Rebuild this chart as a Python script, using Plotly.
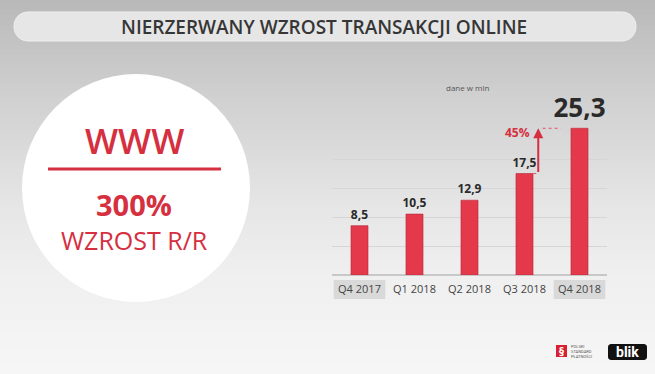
import plotly.graph_objects as go

# ---- data ----
categories = ["Q4 2017", "Q1 2018", "Q2 2018", "Q3 2018", "Q4 2018"]
values = [8.5, 10.5, 12.9, 17.5, 25.3]
growth_label = "45%"
title_text = "NIERZERWANY WZROST TRANSAKCJI ONLINE"
unit_note = "dane w mln"
circle_top = "WWW"
circle_big = "300%"
circle_small = "WZROST R/R"
highlighted = ["Q4 2017", "Q4 2018"]

W, H = 655, 374
L, R, T, B = 332, 48, 101, 99
PW, PH = W - L - R, H - T - B

RED = "#e4384b"
TXT_RED = "#d52f40"


def px(x):
    return (x - L) / PW


def py(y):
    return (H - B - y) / PH


labels = [f"{v:.1f}".replace(".", ",") for v in values]
sizes = [12] * (len(values) - 1) + [26]

fig = go.Figure()
fig.add_trace(go.Bar(
    x=categories, y=values, width=0.31,
    marker=dict(color=RED, line=dict(color="#b5283a", width=0.6)),
    text=labels, textposition="outside", constraintext="none",
    textfont=dict(family="Open Sans", size=sizes, color="#2a2a2a", weight="bold"),
    cliponaxis=False, hoverinfo="skip",
))

shapes = []
# background gradient strips
stops = [(0, 184), (50, 197), (120, 213), (200, 229), (280, 240), (374, 246)]


def gray_at(y):
    for (y0, g0), (y1, g1) in zip(stops, stops[1:]):
        if y0 <= y <= y1:
            return g0 + (g1 - g0) * (y - y0) / (y1 - y0)
    return stops[-1][1]


N = 75
for i in range(N):
    y0 = i * H / N
    y1 = (i + 1) * H / N + 0.6
    g = int(round(gray_at((y0 + y1) / 2)))
    shapes.append(dict(type="rect", xref="paper", yref="paper", layer="below",
                       x0=px(0), x1=px(W), y0=py(y1), y1=py(y0),
                       fillcolor=f"rgb({g},{g},{g})", line=dict(width=0)))


def rrect_path(x0, y0, x1, y1, r, n=8):
    import math
    pts = []
    corners = [(x1 - r, y0 + r, -90, 0), (x1 - r, y1 - r, 0, 90),
               (x0 + r, y1 - r, 90, 180), (x0 + r, y0 + r, 180, 270)]
    for cx, cy, a0, a1 in corners:
        for k in range(n + 1):
            a = math.radians(a0 + (a1 - a0) * k / n)
            pts.append((px(cx + r * math.cos(a)), py(cy + r * math.sin(a))))
    return "M " + " L ".join(f"{a:.5f},{b:.5f}" for a, b in pts) + " Z"


# title bar
shapes.append(dict(type="path", xref="paper", yref="paper", layer="below",
                   path=rrect_path(14, 12, 636, 41, 14),
                   fillcolor="#e6e6e6", line=dict(color="#efefef", width=1)))
# white circle
shapes.append(dict(type="circle", xref="paper", yref="paper", layer="below",
                   x0=px(22), x1=px(250), y0=py(302), y1=py(74),
                   fillcolor="white", line=dict(width=0)))
# red separator line
shapes.append(dict(type="line", xref="paper", yref="paper", layer="below",
                   x0=px(48), x1=px(221), y0=py(169), y1=py(169),
                   line=dict(color=TXT_RED, width=3)))
# gray boxes behind highlighted tick labels
for c in highlighted:
    i = categories.index(c)
    shapes.append(dict(type="rect", xref="x", yref="paper", layer="below",
                       x0=i - 0.47, x1=i + 0.47, y0=py(299), y1=py(280),
                       fillcolor="#d9d9d9", line=dict(width=0)))
# dashed guides for growth arrow
shapes.append(dict(type="line", xref="x", yref="y", x0=3.33, x1=3.66,
                   y0=values[4], y1=values[4],
                   line=dict(color="#e05565", width=1, dash="dot")))
shapes.append(dict(type="line", xref="x", yref="y", x0=3.16, x1=3.25,
                   y0=values[3], y1=values[3],
                   line=dict(color="#e05565", width=1, dash="dot")))
# logos
shapes.append(dict(type="rect", xref="paper", yref="paper",
                   x0=px(556), x1=px(567), y0=py(357), y1=py(345),
                   fillcolor="#d9202f", line=dict(width=0)))
shapes.append(dict(type="path", xref="paper", yref="paper",
                   path=rrect_path(608, 344, 647, 360, 3, 4),
                   fillcolor="#111111", line=dict(width=0)))


def note(text, x, y, size, color, family="Open Sans", weight="normal", **kw):
    d = dict(text=text, x=px(x), y=py(y), xref="paper", yref="paper",
             xanchor="center", yanchor="middle", showarrow=False,
             font=dict(family=family, size=size, color=color, weight=weight))
    d.update(kw)
    return d


annotations = [
    note(title_text, 324, 27, 19, "#363636", weight=600),
    note(circle_top, 134, 140, 35, TXT_RED, weight=600),
    note(circle_big, 134, 204, 29, TXT_RED, weight="bold"),
    note(circle_small, 134, 240, 25, TXT_RED),
    note(unit_note, 468, 87, 8, "#555555"),
    note(growth_label, 517, 132, 12, TXT_RED, weight="bold"),
    dict(text="", x=3.25, y=values[4], xref="x", yref="y",
         ax=3.25, ay=values[3], axref="x", ayref="y", showarrow=True,
         arrowhead=2, arrowsize=1, arrowwidth=2, arrowcolor=TXT_RED, standoff=0),
    note("§", 561.5, 351, 10, "white", family="DejaVu Sans", weight="bold"),
    note("POLSKI<br>STANDARD<br>PŁATNOŚCI", 569, 351, 4, "#555555", family="Roboto",
         xanchor="left", align="left"),
    note("blik", 627.5, 352, 14, "white", family="Roboto", weight="bold"),
]

fig.update_layout(
    width=W, height=H,
    margin=dict(l=L, r=R, t=T, b=B, pad=0),
    paper_bgcolor="#f0f0f0", plot_bgcolor="rgba(0,0,0,0)",
    showlegend=False, shapes=shapes, annotations=annotations,
    xaxis=dict(type="category", showgrid=False, zeroline=False, showline=False,
               ticks="outside", ticklen=4, tickcolor="rgba(0,0,0,0)",
               tickfont=dict(family="Open Sans", size=11, color="#444444"),
               fixedrange=True),
    yaxis=dict(range=[0, 30], dtick=5, showticklabels=False, showgrid=True,
               gridcolor="#d6d6d6", gridwidth=1, zeroline=True, zerolinecolor="#c8c8c8",
               fixedrange=True),
)

fig.write_html("out.html", config={"displayModeBar": False},
               post_script="document.body.style.margin='0';")
